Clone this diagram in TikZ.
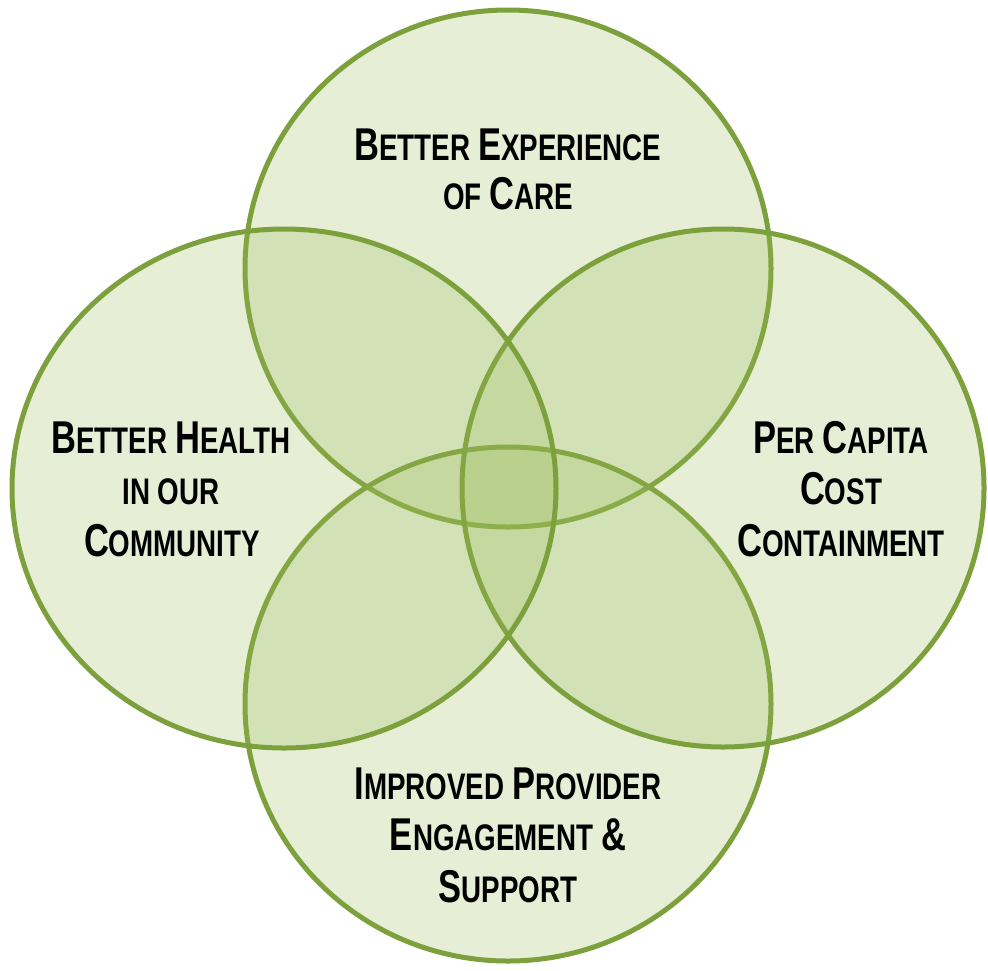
\documentclass[tikz,border=0pt]{standalone}
\usepackage{fontspec}
\newfontfamily\labfont{Liberation Sans}[FakeStretch=0.75]
\definecolor{ringline}{RGB}{123,160,60}
\definecolor{ringfill}{RGB}{155,187,89}
\newcommand\SCx[2]{{\fontsize{46}{51}\selectfont #1}{\fontsize{37}{51}\selectfont #2}}
\tikzset{
  ring/.style={draw=ringline, line width=5pt, fill=ringfill, fill opacity=0.25, draw opacity=1},
  lab/.style={anchor=base, inner sep=0pt, font=\labfont\bfseries\fontsize{37}{51}\selectfont, text=black}
}
\begin{document}
\begin{tikzpicture}[x=1pt,y=-1pt]
\useasboundingbox (0,0) rectangle (988,970);
% circles
\draw[ring] (508,268.5) ellipse [x radius=263, y radius=258.5];
\draw[ring] (508,704) ellipse [x radius=263, y radius=257];
\draw[ring] (723,488) ellipse [x radius=261, y radius=259];
\draw[ring] (284,488.5) ellipse [x radius=272, y radius=259.5];
% labels
\node[lab] (t1) at (508,160) {\SCx{B}{ETTER} \SCx{E}{XPERIENCE}};
\node[lab] (t2) at (508,209) {\SCx{}{OF} \SCx{C}{ARE}};
\node[lab] (l1) at (171,453) {\SCx{B}{ETTER} \SCx{H}{EALTH}};
\node[lab] (l2) at (171,504) {\SCx{}{IN OUR}};
\node[lab] (l3) at (172,556) {\SCx{C}{OMMUNITY}};
\node[lab] (r1) at (841,453) {\SCx{P}{ER} \SCx{C}{APITA}};
\node[lab] (r2) at (841,504) {\SCx{C}{OST}};
\node[lab] (r3) at (841,556) {\SCx{C}{ONTAINMENT}};
\node[lab] (b1) at (508,799) {\SCx{I}{MPROVED} \SCx{P}{ROVIDER}};
\node[lab] (b2) at (508,850) {\SCx{E}{NGAGEMENT} \SCx{\&}{}};
\node[lab] (b3) at (508,902) {\SCx{S}{UPPORT}};
\end{tikzpicture}
\end{document}
